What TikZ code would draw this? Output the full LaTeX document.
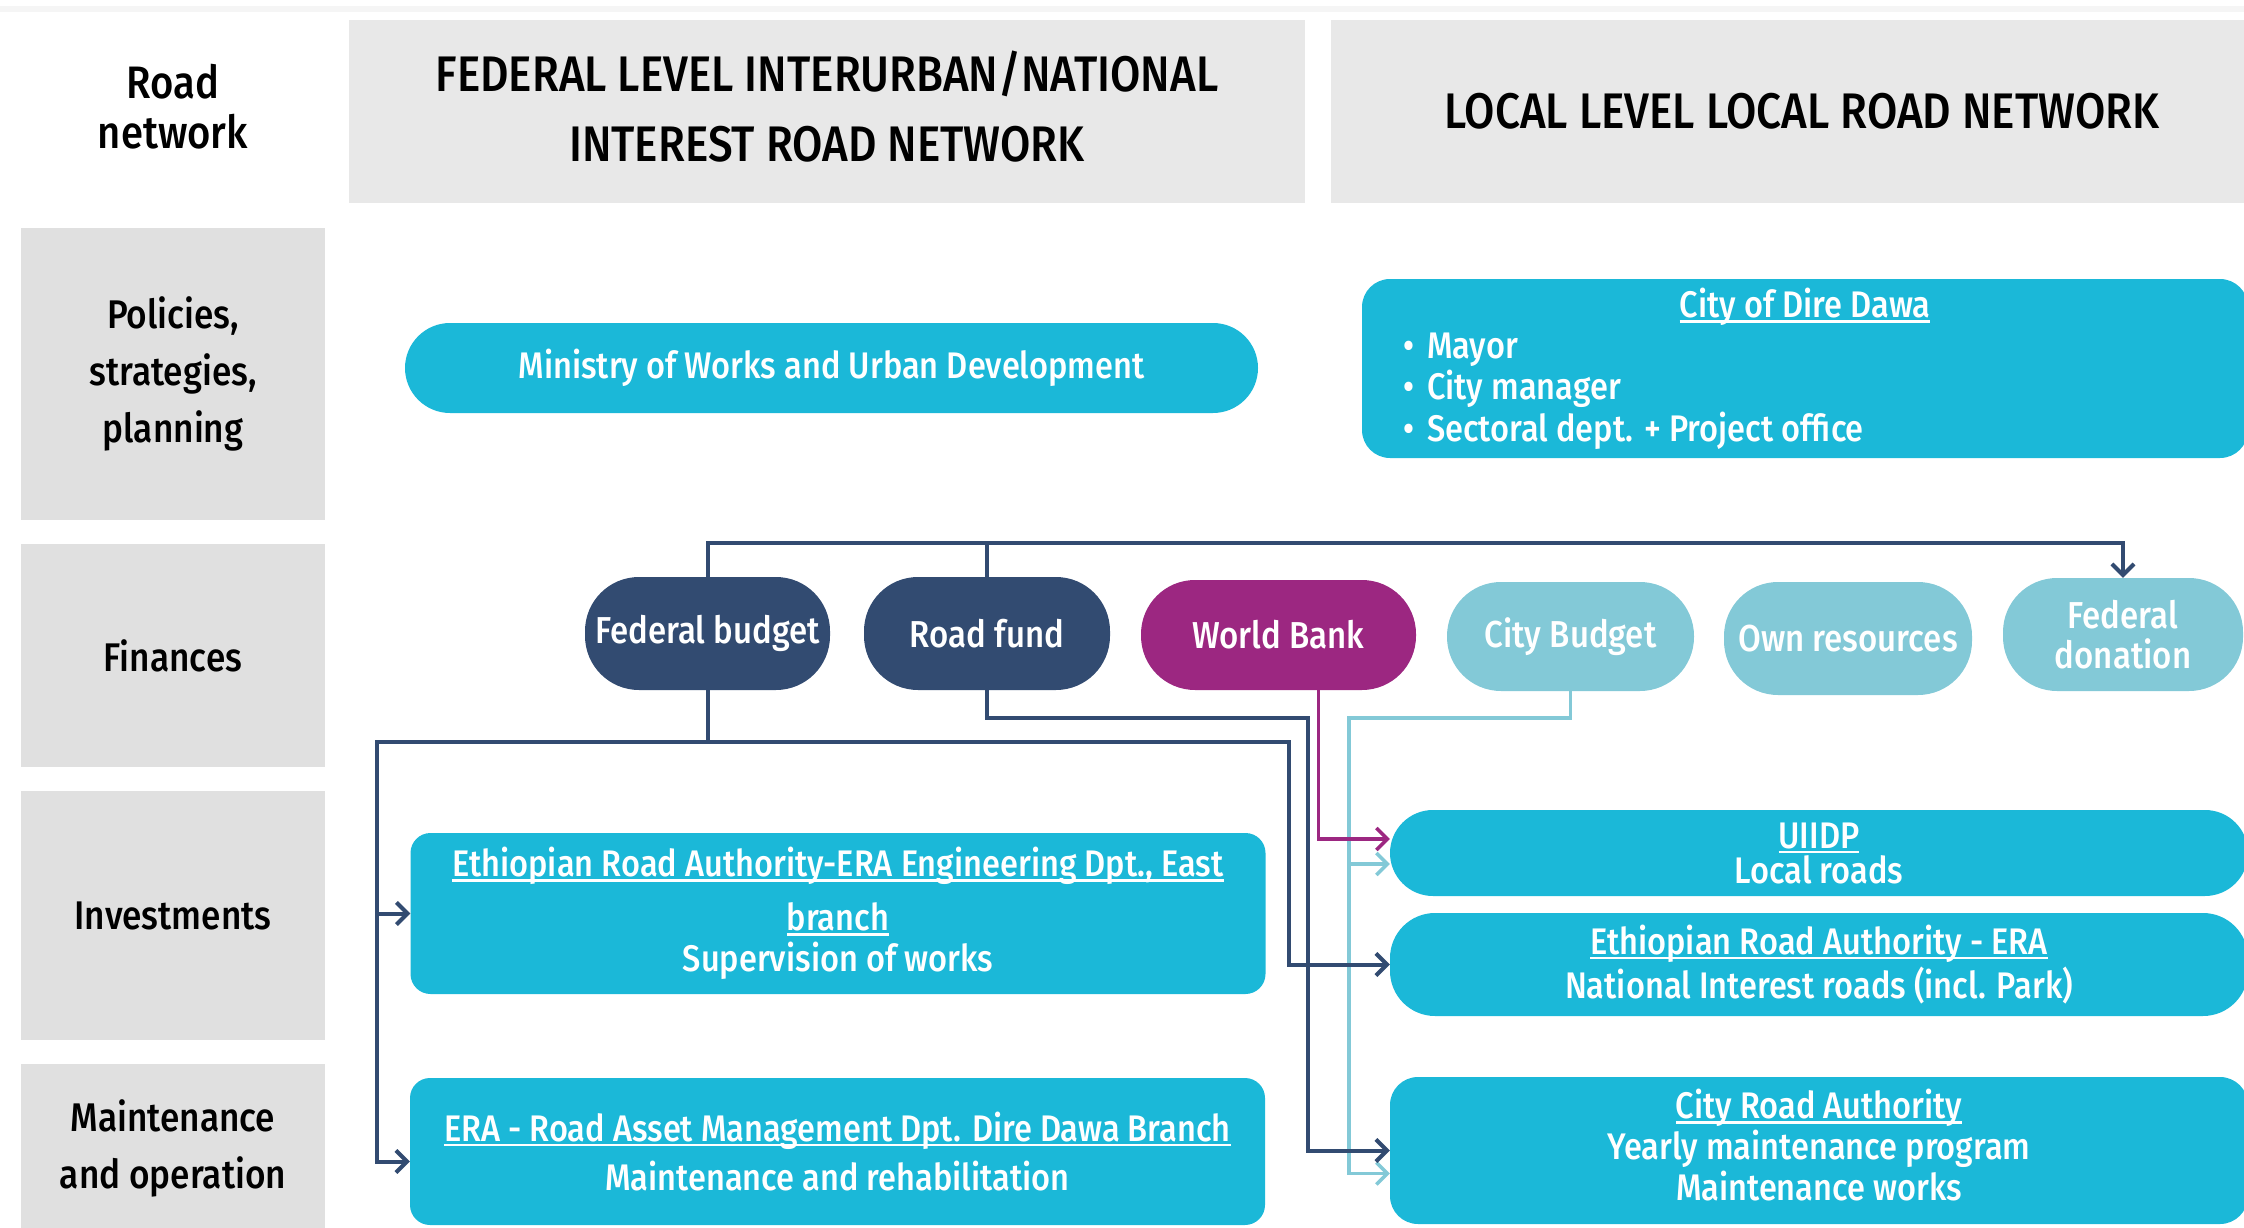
\documentclass[tikz,border=0pt]{standalone}
\usepackage{fontspec}
\setmainfont{Fira Sans}[FakeStretch=0.88]
\IfFontExistsTF{Fira Sans Medium}
  {\newfontfamily\medfont{Fira Sans Medium}[FakeStretch=0.88]}
  {\newfontfamily\medfont{Fira Sans}[FakeStretch=0.88,FakeBold=1]}
\usetikzlibrary{arrows.meta,calc}

\definecolor{cyanbox}{HTML}{1BB8D8}
\definecolor{navy}{HTML}{324B71}
\definecolor{wbpurple}{HTML}{9C2781}
\definecolor{lteal}{HTML}{83C9D7}
\definecolor{hdrgray}{HTML}{E8E8E8}
\definecolor{lblgray}{HTML}{E0E0E0}

% underline drawn close to the baseline, crossing descenders
\newcommand\ulx[1]{\setbox0\hbox{#1}\rlap{\rule[-5pt]{\wd0}{2.5pt}}\box0}

\begin{document}
\begin{tikzpicture}[x=1pt,y=-1pt,
  hdr/.style={fill=hdrgray, inner sep=0pt, align=center, text=black,
    font=\medfont\fontsize{50}{70}\selectfont},
  lbl/.style={fill=lblgray, inner sep=0pt, minimum width=304pt, align=center,
    text=black, font=\medfont\fontsize{40}{57}\selectfont},
  box/.style={fill=cyanbox, inner sep=0pt, align=center, text=white,
    font=\medfont\fontsize{37}{41}\selectfont},
  fund/.style={inner sep=0pt, align=center, text=white, rounded corners=54pt,
    font=\medfont\fontsize{37.5}{40}\selectfont},
  conn/.style={line width=4pt},
  navyc/.style={conn, draw=navy},
  purplec/.style={line width=3.5pt, draw=wbpurple},
  tealc/.style={line width=3.5pt, draw=lteal},
  arr/.style={-{Straight Barb[length=11pt,width=22pt]}},
]
\useasboundingbox (0,0) rectangle (2244,1228);
\clip (0,0) rectangle (2244,1228);

% faint rule along the top edge
\fill[black!4] (0,6) rectangle (2244,12);

% column headers
\node[font=\medfont\fontsize{45.5}{50}\selectfont, align=center] (roadnet) at (173,107) {Road\\network};
\node[hdr, minimum width=956pt, minimum height=183pt] (fedhdr) at (827,111.5) {};
\node[font=\medfont\fontsize{50}{70}\selectfont, align=center] (fedtxt) at (827,107)
  {FEDERAL LEVEL INTERURBAN/NATIONAL\\INTEREST ROAD NETWORK};
\node[hdr, minimum width=942pt, minimum height=183pt] (lochdr) at (1802,111.5)
  {LOCAL LEVEL LOCAL ROAD NETWORK};

% row labels
\node[lbl, minimum height=292pt] (policies) at (173,374) {Policies,\\strategies,\\planning};
\node[lbl, minimum height=223pt] (finances) at (173,655.5) {Finances};
\node[lbl, minimum height=249pt] (invest) at (173,915.5) {Investments};
\node[lbl, minimum height=168pt] (maint) at (173,1148) {Maintenance\\and operation};

% policies row
\node[box, rounded corners=45pt, minimum width=853pt, minimum height=90pt] (ministry)
  at (831.5,368) {Ministry of Works and Urban Development};
\node[fill=cyanbox, rounded corners=28pt, minimum width=886pt, minimum height=179pt,
  inner sep=0pt] (city) at (1805,368.5) {};
\node[text=white, font=\medfont\fontsize{37}{41}\selectfont] (citytitle) at (1805,307)
  {\ulx{City of Dire Dawa}};
\node[text=white, font=\medfont\fontsize{37}{41.5}\selectfont, align=left, anchor=west,
  inner sep=0pt] (citylist) at (1403,391)
  {\textbullet\hspace{13pt}Mayor\\\textbullet\hspace{13pt}City manager\\
   \textbullet\hspace{13pt}Sectoral dept. + Project office};

% finance sources
\node[fund, fill=navy, minimum width=245pt, minimum height=113pt] (fb) at (707.5,633.5) {Federal budget};
\node[fund, fill=navy, minimum width=246pt, minimum height=113pt] (rf) at (987,633.5) {Road fund};
\node[fund, fill=wbpurple, minimum width=275pt, minimum height=110pt] (wb) at (1278.5,635) {World Bank};
\node[fund, fill=lteal, minimum width=247pt, minimum height=109pt] (cb) at (1570.5,636.5) {City Budget};
\node[fund, fill=lteal, minimum width=248pt, minimum height=113pt] (own) at (1848,638.5) {Own resources};
\node[fund, fill=lteal, minimum width=240pt, minimum height=113pt] (fd) at (2123,634.5) {Federal\\donation};

% implementing bodies
\node[box, rounded corners=20pt, minimum width=855pt, minimum height=161pt] (eraeng) at (838,913.5)
  {\ulx{Ethiopian Road Authority-ERA Engineering Dpt., East}\\[13pt]\ulx{branch}\\Supervision of works};
\node[box, rounded corners=20pt, minimum width=855pt, minimum height=147pt] (eramaint) at (837.5,1151.5)
  {\ulx{ERA - Road Asset Management Dpt. Dire Dawa Branch}\\[8pt]Maintenance and rehabilitation};
\node[box, rounded corners=43pt, minimum width=858pt, minimum height=86pt,
  font=\medfont\fontsize{37}{35}\selectfont] (uiidp) at (1819,853) {\ulx{UIIDP}\\Local roads};
\node[box, rounded corners=45pt, minimum width=858pt, minimum height=103pt,
  font=\medfont\fontsize{37}{44}\selectfont] (eranat) at (1819,964.5)
  {\ulx{Ethiopian Road Authority - ERA}\\National Interest roads (incl. Park)};
\node[box, rounded corners=28pt, minimum width=858pt, minimum height=147pt] (cra) at (1819,1150.5)
  {\ulx{City Road Authority}\\Yearly maintenance program\\Maintenance works\vphantom{\rule{0pt}{10pt}}\\[-30pt]};

% bus lines
\coordinate (topbus) at (0,543);
\coordinate (fbbus) at (0,742);
\coordinate (rfbus) at (0,718);
\coordinate (lx) at (377,0);
\coordinate (rx) at (1289,0);
\coordinate (rfx) at (1308,0);
\coordinate (cbx) at (1349,0);

% city budget flows
\draw[tealc, arr] (cb.south) |- (cbx |- rfbus) |- ($(uiidp.west)+(0,11)$);
\draw[tealc, arr] (cbx |- rfbus) |- ($(cra.west)+(0,23)$);

% federal budget and road fund to federal donation
\draw[navyc, arr] (fb.north) -- (fb.north |- topbus) -| (fd.north);
\draw[navyc] (rf.north) -- (rf.north |- topbus);

% federal budget flows
\draw[navyc] (fb.south) -- (fb.south |- fbbus);
\draw[navyc, arr] (rx |- fbbus) -- (lx |- fbbus) |- (eraeng.west);
\draw[navyc, arr] (lx |- fbbus) |- ($(eramaint.west)+(0,10)$);
\draw[navyc, arr] (lx |- fbbus) -- (rx |- fbbus) |- (eranat.west);

% road fund flow
\draw[navyc, arr] (rf.south) |- (rfx |- rfbus) |- (cra.west);

% world bank flow
\draw[purplec, arr] ($(wb.south)+(40,0)$) |- ($(uiidp.west)+(0,-14)$);
\end{tikzpicture}
\end{document}
